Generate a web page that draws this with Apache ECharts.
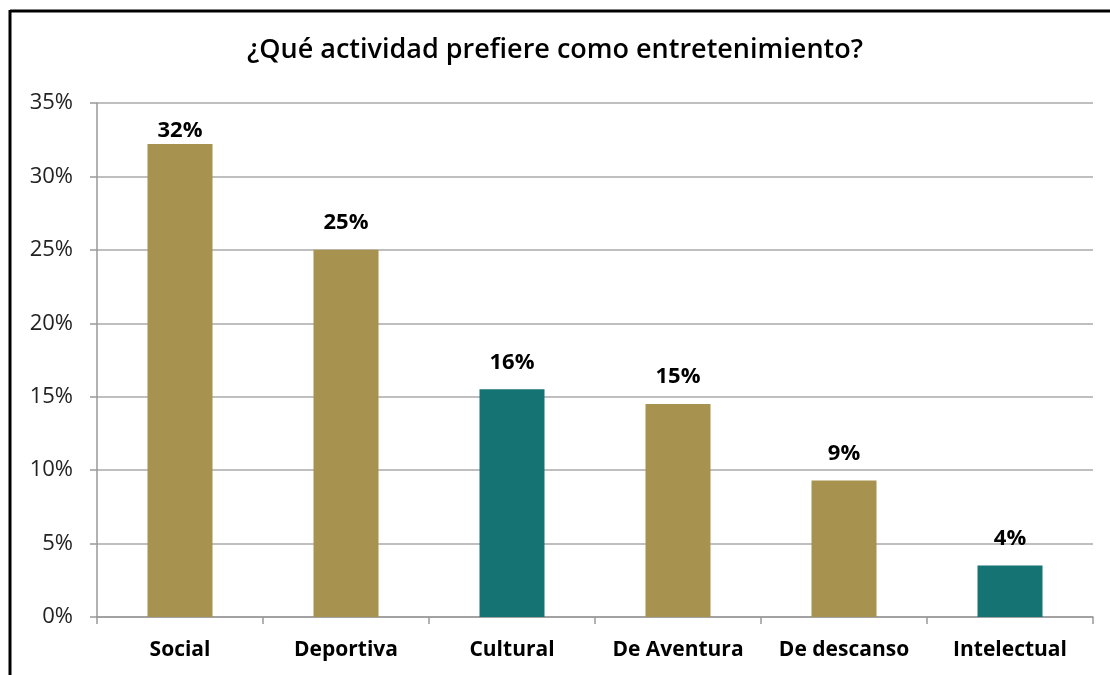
<!DOCTYPE html>
<html>
<head>
<meta charset="utf-8">
<script src="https://cdn.jsdelivr.net/npm/echarts@6/dist/echarts.min.js"></script>
<style>
html,body{margin:0;padding:0;background:#fff;}
#c{width:1110px;height:675px;}
</style>
</head>
<body>
<div id="c"></div>
<script>
const categories = ['Social', 'Deportiva', 'Cultural', 'De Aventura', 'De descanso', 'Intelectual'];
const values = [32.2, 25.0, 15.5, 14.5, 9.3, 3.5];
const barColors = ['#A8924F', '#A8924F', '#167373', '#A8924F', '#A8924F', '#167373'];
const yTicks = [0, 5, 10, 15, 20, 25, 30, 35];

const FONT = "'Open Sans', 'Noto Sans', sans-serif";
const chart = echarts.init(document.getElementById('c'));
chart.setOption({
  backgroundColor: '#fff',
  animation: false,
  title: {
    text: '¿Qué actividad prefiere como entretenimiento?',
    left: 'center',
    top: 32,
    textStyle: { fontFamily: FONT, fontSize: 27, fontWeight: 600, color: '#000' }
  },
  grid: { left: 97, right: 17, top: 103, bottom: 58 },
  xAxis: {
    type: 'category',
    data: categories,
    axisLine: { lineStyle: { color: '#999', width: 1.5 } },
    axisTick: { show: true, length: 7, lineStyle: { color: '#999', width: 1.5 } },
    axisLabel: { interval: 0, hideOverlap: false, fontFamily: FONT, fontSize: 21, fontWeight: 'bold', color: '#000', margin: 23 }
  },
  yAxis: {
    type: 'value',
    min: yTicks[0],
    max: yTicks[yTicks.length - 1],
    interval: 5,
    axisLine: { show: true, lineStyle: { color: '#999', width: 1.5 } },
    axisTick: { show: true, length: 7, lineStyle: { color: '#999', width: 1.5 } },
    splitLine: { lineStyle: { color: '#aaa', width: 1.5 } },
    axisLabel: { fontFamily: FONT, fontSize: 22, color: '#222', margin: 24, formatter: v => v + '%' }
  },
  series: [{
    type: 'bar',
    data: values.map((v, i) => {
      const d = { value: v, itemStyle: { color: barColors[i] } };
      // the tallest label is squeezed under the plot top, as in the reference
      if (i === 0) d.label = { distance: 2 };
      return d;
    }),
    barWidth: 65,
    label: {
      show: true,
      position: 'top',
      distance: 16,
      fontFamily: FONT, fontSize: 22, fontWeight: 'bold', color: '#000',
      formatter: p => Math.round(p.value) + '%'
    }
  }],
  graphic: [
    { type: 'line', shape: { x1: 10, y1: 11, x2: 1110, y2: 11 }, style: { stroke: '#000', lineWidth: 3 } },
    { type: 'line', shape: { x1: 10, y1: 10, x2: 10, y2: 675 }, style: { stroke: '#000', lineWidth: 3 } }
  ]
});
</script>
</body>
</html>
